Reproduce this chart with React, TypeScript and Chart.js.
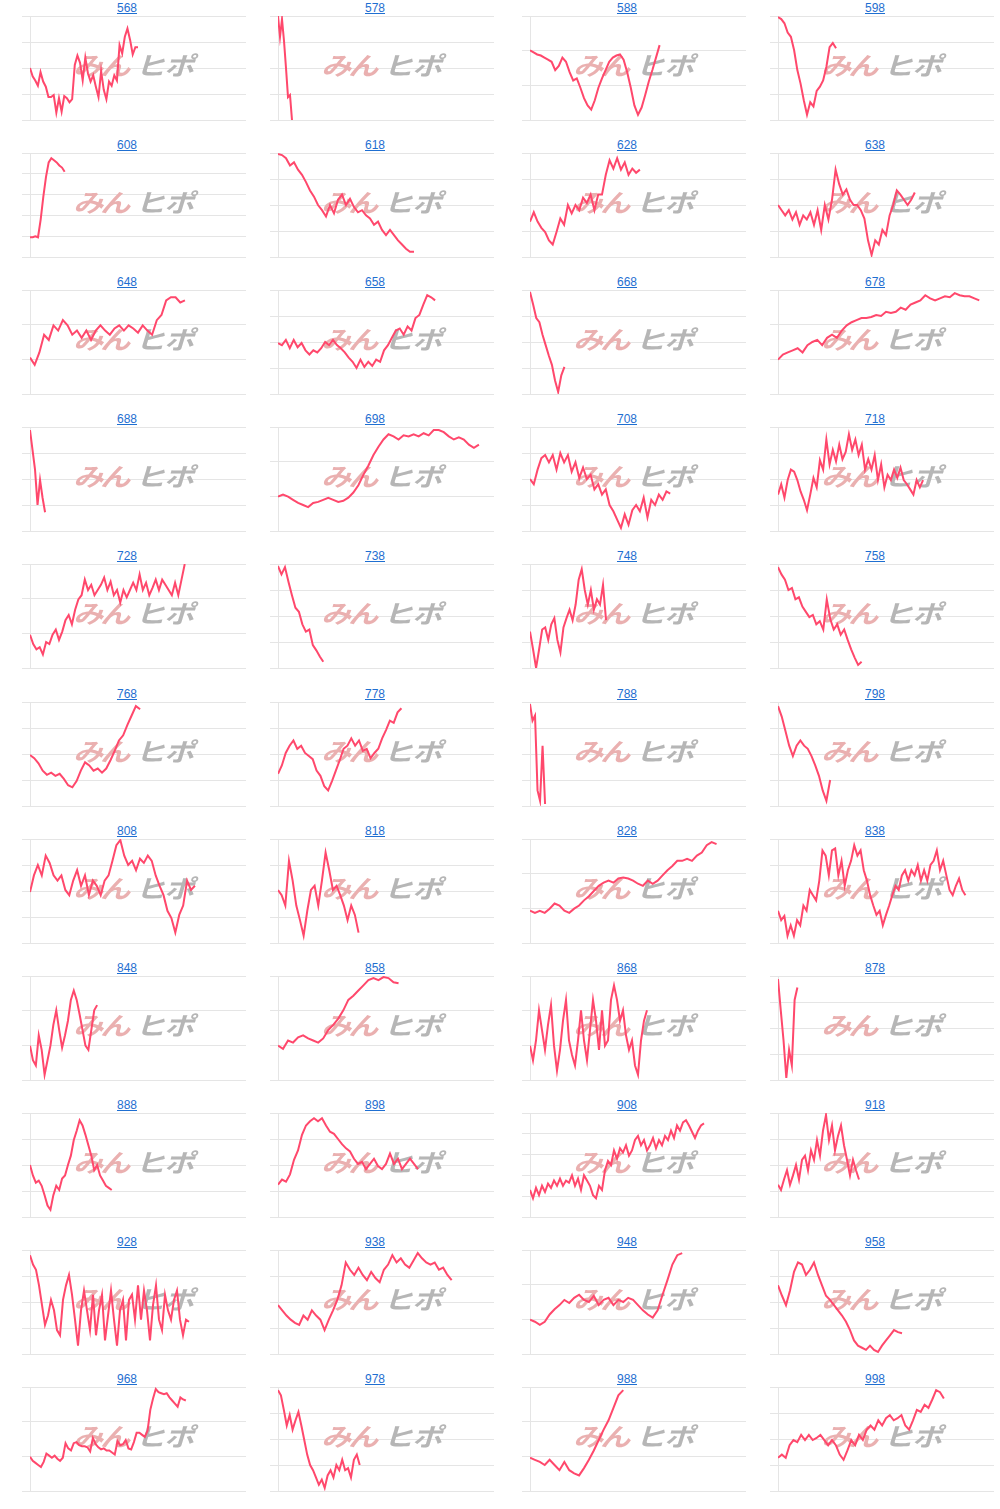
import React, { useEffect, useRef } from "react";
import { Chart, registerables } from "chart.js";
Chart.register(...registerables);

// Panel titles (codes)
const codes = ["568","578","588","598","608","618","628","638","648","658","668","678","688","698","708","718","728","738","748","758","768","778","788","798","808","818","828","838","848","858","868","878","888","898","908","918","928","938","948","958","968","978","988","998"];

// Series values (position within each panel's value range, 0..100)
const s568 = [50,42,38,33,46,37,32,22,22,24,7,21,8,23,21,17,20,53,62,55,38,60,45,37,43,32,22,47,29,20,37,33,43,38,72,64,80,88,77,63,70,70];
const s578 = [100,80,97,76,50,22,24,0];
const s588 = [67,65,63,62,60,58,56,48,52,60,56,46,38,40,31,21,14,10,19,31,40,48,56,60,62,63,58,46,31,14,5,12,24,37,48,60,72];
const s598 = [99,97,93,84,80,67,48,35,19,5,17,13,28,32,38,51,70,74,69];
const s608 = [19,19,20,19,36,58,77,91,95,93,91,88,86,82];
const s618 = [99,98,95,88,91,84,79,72,64,58,50,45,39,50,42,55,60,50,56,48,43,45,40,37,31,34,26,21,26,21,16,12,8,5,5];
const s628 = [34,43,34,28,24,16,12,24,37,31,50,42,50,45,57,52,60,45,60,60,79,93,85,95,84,91,79,85,81,84];
const s638 = [50,45,40,45,36,43,31,40,36,43,31,45,26,50,36,55,84,70,60,65,55,50,50,45,37,16,2,16,12,26,21,40,50,64,60,55,50,55,62];
const s648 = [35,28,40,57,52,66,61,71,66,57,61,54,61,52,61,66,61,57,63,66,61,66,63,59,66,61,57,71,76,90,93,93,88,90];
const s658 = [49,47,52,44,52,45,49,42,38,42,40,44,50,47,52,47,44,40,35,31,25,33,26,31,27,33,31,42,47,54,61,63,57,65,61,73,76,86,95,93,90];
const s668 = [98,86,73,69,57,47,37,28,13,2,18,26];
const s678 = [33,38,40,42,44,40,47,50,52,47,54,57,54,61,66,69,71,73,73,74,76,75,79,78,79,83,81,86,88,90,95,92,90,92,94,93,97,95,94,94,92,90];
const s688 = [97,78,59,25,49,32,18];
const s698 = [33,35,33,30,27,25,23,27,28,30,32,30,28,29,32,37,44,54,63,73,81,88,93,91,88,92,91,93,91,94,92,97,97,95,91,88,90,88,83,80,83];
const s708 = [50,45,59,70,73,66,73,59,75,66,73,57,66,51,61,50,54,40,45,35,40,25,19,11,3,16,6,20,25,19,32,13,30,25,35,30,38,36];
const s718 = [35,45,32,49,59,57,49,38,30,20,35,51,42,68,59,88,64,78,67,83,69,76,93,78,88,73,83,59,69,59,73,49,64,42,54,49,59,51,61,49,45,40,35,49,42,49];
const s728 = [32,23,18,20,13,25,23,32,37,27,35,46,51,42,56,66,70,85,75,80,70,75,80,87,75,83,70,75,63,75,68,75,82,75,90,75,82,70,77,85,75,85,80,75,70,82,70,85,100];
const s738 = [98,90,97,83,70,58,54,42,35,37,22,17,11,6];
const s748 = [35,18,0,18,37,39,27,42,48,27,15,39,48,56,46,61,85,95,75,61,75,56,66,61,80,46];
const s758 = [97,90,85,75,77,66,68,59,54,49,51,42,45,37,66,47,37,42,32,37,27,18,10,3,6];
const s768 = [49,46,41,34,30,32,29,31,26,20,18,24,34,42,39,34,36,32,36,44,53,63,68,78,87,96,93];
const s778 = [31,39,51,58,63,55,58,51,48,45,34,29,19,15,24,34,44,55,58,65,58,63,53,55,46,51,55,65,73,82,80,90,94];
const s788 = [98,82,87,15,5,58,2];
const s798 = [96,86,72,58,48,58,63,58,55,48,39,29,15,5,25];
const s808 = [49,65,75,65,84,77,65,60,65,51,46,60,70,55,65,46,60,55,46,60,65,79,94,99,84,75,79,70,81,77,84,79,65,55,46,31,24,10,27,36,60,51,55];
const s818 = [51,46,36,79,60,36,22,7,31,51,55,36,60,87,70,51,55,46,36,22,36,27,10];
const s828 = [31,29,31,29,33,38,36,31,29,33,36,41,45,50,55,58,60,58,62,63,62,60,57,55,60,57,60,65,70,74,79,79,81,79,84,87,94,97,95];
const s838 = [31,22,26,7,17,7,22,17,36,31,51,46,41,60,89,84,65,89,91,65,79,55,70,79,94,84,89,70,60,46,36,27,31,17,27,36,46,55,51,65,70,60,70,65,75,60,70,60,75,79,89,70,79,65,51,46,55,62,51,46];
const s848 = [33,19,14,43,29,5,19,33,53,67,48,31,43,57,77,86,77,63,48,33,29,48,67,72];
const s858 = [33,30,38,36,41,43,40,38,36,40,48,53,59,67,77,81,86,91,96,98,96,99,98,94,93];
const s868 = [33,19,38,67,48,29,53,72,33,9,29,57,77,38,24,14,38,67,38,19,48,77,57,29,67,33,38,77,91,77,57,67,43,29,38,14,5,38,57,67];
const s878 = [97,67,38,2,29,14,77,89];
const s888 = [50,40,33,35,30,21,11,7,21,30,26,37,40,50,59,74,83,93,88,79,69,59,45,50,40,35,30,28,26];
const s898 = [31,36,34,41,55,64,79,88,92,95,92,95,88,82,80,75,70,66,63,56,51,53,46,51,56,49,46,51,61,51,56,46,51,56,51,46];
const s908 = [26,18,28,21,30,24,32,28,35,30,37,30,35,33,40,30,37,26,40,35,30,21,18,30,26,45,54,50,64,56,66,62,69,59,64,74,78,69,74,64,69,76,66,74,69,78,74,83,76,88,83,91,93,88,82,76,83,88,90];
const s918 = [31,26,36,45,31,40,50,36,55,59,45,64,55,74,59,83,98,74,88,64,78,88,69,55,40,55,45,36];
const s928 = [95,86,81,66,47,28,37,52,42,23,18,52,66,76,57,33,8,42,61,42,23,57,18,42,57,13,37,61,33,8,42,52,13,52,57,33,66,33,61,42,13,47,66,33,23,57,42,33,52,61,33,18,33,31];
const s938 = [47,42,37,33,30,28,37,33,42,37,33,23,33,42,52,66,88,81,76,83,76,71,79,73,69,81,86,95,88,92,86,83,90,97,92,88,86,88,81,83,76,71];
const s948 = [33,31,28,31,38,43,47,52,49,54,57,52,50,56,47,52,54,47,52,50,54,52,47,42,38,35,42,57,71,86,95,97];
const s958 = [66,56,47,61,79,88,86,76,81,88,76,66,56,52,47,42,37,31,23,13,8,6,4,8,4,2,8,13,18,23,21,20];
const s968 = [33,29,27,25,23,28,36,34,32,34,31,29,32,46,41,39,46,47,44,43,43,42,38,51,45,42,40,41,39,39,37,35,48,44,45,49,41,40,47,56,56,54,52,58,78,89,98,95,94,93,94,90,87,84,81,90,88,87];
const s978 = [97,92,78,63,73,59,68,76,63,49,35,25,20,13,6,11,3,15,20,13,25,20,30,20,22,13,30,35,25];
const s988 = [32,30,28,25,30,25,20,28,20,17,15,22,30,39,49,59,68,80,92,97];
const s998 = [32,35,32,44,49,47,54,49,54,49,51,54,49,44,49,44,35,30,39,49,44,54,49,59,63,59,68,63,70,73,68,70,73,63,59,68,78,76,83,80,88,97,95,89];

const seriesList = [s568,s578,s588,s598,s608,s618,s628,s638,s648,s658,s668,s678,s688,s698,s708,s718,s728,s738,s748,s758,s768,s778,s788,s798,s808,s818,s828,s838,s848,s858,s868,s878,s888,s898,s908,s918,s928,s938,s948,s958,s968,s978,s988,s998];

// Length of each panel's time axis (number of periods)
const axisLengths = [82,108,60,67, 81,54,57,60, 46,55,69,44, 86,43,57,67, 67,62,71,62, 51,56,86,58, 55,59,44,68, 74,43,72,78, 74,54,72,72, 72,51,44,54, 79,74,44,56];

// Number of horizontal grid intervals per panel
const gridIntervals = [4,4,3,4, 5,4,4,4, 3,4,4,3, 4,3,4,4, 3,4,4,4, 4,4,4,4, 4,4,3,4, 3,3,3,4, 4,4,5,4, 4,4,3,4, 3,4,3,4];

const COL_CANVAS_X = [22, 270, 522, 770];
const COL_TITLE_X = [127, 375, 627, 875];
const ROW_STEP = 137.1;
const GRID_TOP = 16;
const CANVAS_W = 224;
const CANVAS_H = 108;
const PAD = 2;

const watermark = {
  id: "watermark",
  beforeDatasetsDraw(chart: any) {
    const { ctx, chartArea } = chart;
    const cx = (chartArea.left + chartArea.right) / 2;
    const cy = (chartArea.top + chartArea.bottom) / 2 - 3;
    ctx.save();
    ctx.font = "bold 25px 'Noto Sans CJK JP'";
    ctx.textAlign = "center";
    ctx.textBaseline = "middle";
    const pink = "rgb(234,176,176)";
    const gray = "rgb(182,182,182)";
    const glyphs = [
      { t: "み", dx: -47, c: pink },
      { t: "ん", dx: -20, c: pink },
      { t: "ヒ", dx: 15, c: gray },
      { t: "ポ", dx: 44, c: gray },
    ];
    for (const g of glyphs) {
      ctx.save();
      ctx.translate(cx + g.dx, cy);
      ctx.transform(1.2, 0, -0.3, 1, 0, 0);
      ctx.fillStyle = g.c;
      ctx.fillText(g.t, 0, 0);
      ctx.restore();
    }
    ctx.restore();
  },
};

function Panel({ index }: { index: number }) {
  const ref = useRef<HTMLCanvasElement>(null);
  useEffect(() => {
    if (!ref.current) return;
    const values = seriesList[index];
    const chart = new Chart(ref.current, {
      type: "line",
      data: {
        datasets: [
          {
            data: values.map((v, i) => ({ x: i, y: v })),
            borderColor: "rgb(255, 72, 108)",
            borderWidth: 2,
            pointRadius: 0,
            tension: 0,
            fill: false,
          },
        ],
      },
      options: {
        animation: false,
        responsive: false,
        maintainAspectRatio: false,
        layout: { padding: { top: PAD, bottom: PAD, left: 0, right: 0 } },
        plugins: { legend: { display: false }, tooltip: { enabled: false }, title: { display: false } },
        scales: {
          x: { type: "linear", min: 0, max: axisLengths[index], display: false },
          y: {
            min: 0,
            max: 100,
            ticks: { display: false, count: gridIntervals[index] + 1 },
            grid: { color: "rgba(0,0,0,0.1)", drawTicks: true, tickLength: 8 },
            border: { display: true, color: "rgba(0,0,0,0.1)" },
          },
        },
      },
      plugins: [watermark],
    });
    return () => chart.destroy();
  }, [index]);
  const row = Math.floor(index / 4);
  const col = index % 4;
  const top = Math.round(GRID_TOP + ROW_STEP * row) - PAD;
  const titleY = Math.round(8 + ROW_STEP * row);
  return (
    <>
      <div
        style={{
          position: "absolute",
          left: COL_TITLE_X[col] - 119,
          top: titleY - 7,
          width: 238,
          height: 14,
          lineHeight: "14px",
          textAlign: "center",
          fontFamily: "'Liberation Sans', Arial, sans-serif",
          fontSize: 12,
        }}
      >
        <a href="#" style={{ color: "#1f6fd1", textDecoration: "underline" }}>
          {codes[index]}
        </a>
      </div>
      <canvas
        ref={ref}
        width={CANVAS_W}
        height={CANVAS_H}
        style={{ position: "absolute", left: COL_CANVAS_X[col], top, width: CANVAS_W, height: CANVAS_H }}
      />
    </>
  );
}

export default function App() {
  return (
    <div style={{ position: "absolute", left: 0, top: 0, width: 1000, height: 1509, background: "#fff" }}>
      {codes.map((_, i) => (
        <Panel key={i} index={i} />
      ))}
    </div>
  );
}
